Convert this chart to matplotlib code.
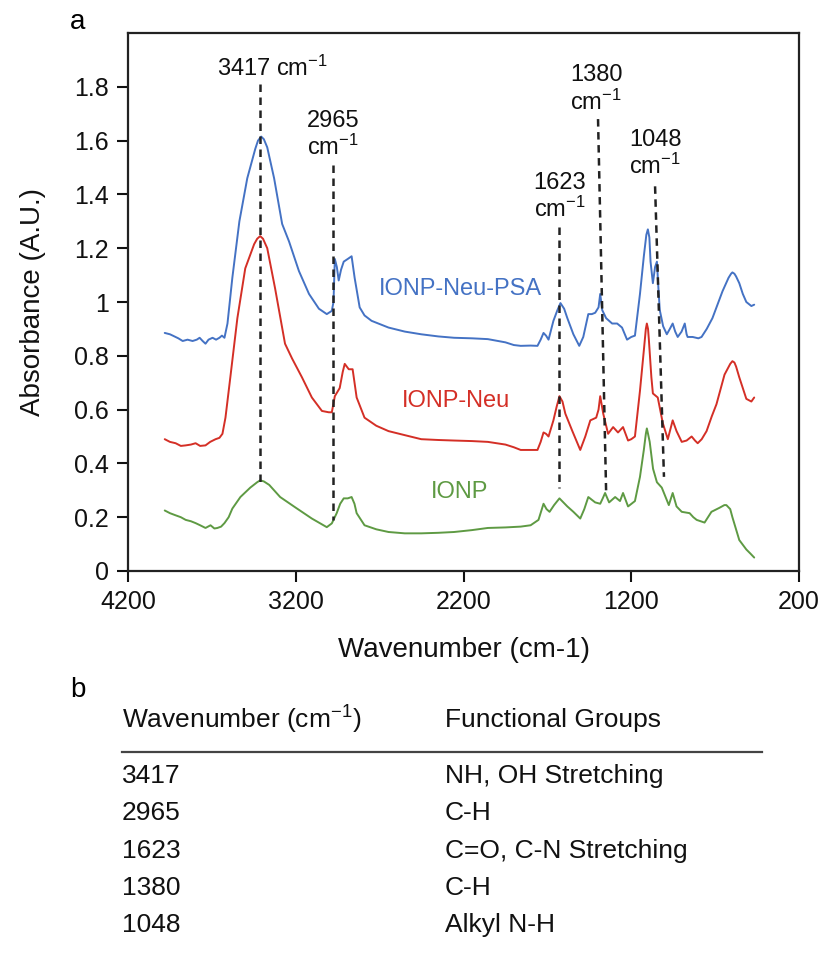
import matplotlib
matplotlib.use("Agg")
import matplotlib.pyplot as plt
import numpy as np

plt.rcParams['font.family'] = ['Liberation Sans', 'DejaVu Sans']
plt.rcParams['mathtext.fontset'] = 'custom'
plt.rcParams['mathtext.rm'] = 'Liberation Sans'
plt.rcParams['mathtext.it'] = 'Liberation Sans'

# ---------------- data ----------------
psa_wn = [3981, 3950, 3933, 3900, 3874, 3845, 3815, 3790, 3773, 3755, 3738, 3720, 3696, 3675, 3655, 3640,
          3625, 3607, 3578, 3536, 3489, 3441, 3425, 3406, 3390, 3370, 3329, 3281, 3240, 3181, 3121, 3062, 3015, 2985,
          2975, 2967, 2955, 2944, 2930, 2914, 2890, 2867, 2849, 2819, 2790, 2748, 2647, 2550, 2452, 2350,
          2256, 2150, 2055, 1950, 1900, 1859, 1800, 1759, 1740, 1723, 1708, 1693, 1664, 1640, 1622, 1600,
          1581, 1545, 1510, 1486, 1456, 1435, 1415, 1395, 1385, 1373, 1350, 1314, 1284, 1255, 1225, 1200,
          1178, 1148, 1125, 1110, 1101, 1092, 1085, 1071, 1058, 1047, 1038, 1030, 1010, 988, 970, 953, 938, 923, 900,
          881, 870, 864, 834, 800, 781, 750, 716, 656, 620, 605, 597, 585, 575, 556, 535, 514, 484, 467]
psa_abs = [0.885, 0.88, 0.875, 0.865, 0.855, 0.86, 0.855, 0.86, 0.867, 0.855, 0.845, 0.86, 0.867, 0.86, 0.867, 0.875,
           0.867, 0.92, 1.09, 1.30, 1.46, 1.57, 1.60, 1.615, 1.605, 1.575, 1.46, 1.29, 1.225, 1.115, 1.03, 0.975, 0.955, 0.967,
           1.00, 1.16, 1.13, 1.08, 1.12, 1.15, 1.16, 1.17, 1.09, 0.98, 0.95, 0.93, 0.905, 0.89, 0.88, 0.872,
           0.867, 0.865, 0.862, 0.85, 0.84, 0.837, 0.838, 0.837, 0.86, 0.885, 0.875, 0.86, 0.93, 0.97, 0.996, 0.975,
           0.94, 0.88, 0.837, 0.87, 0.955, 0.955, 0.96, 0.98, 1.03, 0.97, 0.94, 0.92, 0.92, 0.905, 0.86, 0.87,
           0.875, 1.03, 1.17, 1.25, 1.27, 1.24, 1.15, 1.07, 1.13, 1.15, 1.05, 0.97, 0.91, 0.88, 0.90, 0.92, 0.89, 0.87, 0.89,
           0.92, 0.88, 0.87, 0.87, 0.865, 0.87, 0.90, 0.94, 1.04, 1.09, 1.105, 1.11, 1.105, 1.095, 1.07, 1.03, 1.00, 0.985, 0.99]

neu_wn = [3981, 3950, 3916, 3885, 3856, 3825, 3797, 3770, 3738, 3710, 3678, 3655, 3637, 3619, 3590, 3548,
          3501, 3448, 3430, 3412, 3395, 3370, 3323, 3264, 3222, 3163, 3104, 3044, 3003, 2985, 2967, 2938, 2920, 2908,
          2884, 2861, 2837, 2790, 2720, 2647, 2550, 2452, 2350, 2256, 2150, 2055, 1950, 1900, 1859, 1800,
          1759, 1740, 1723, 1708, 1693, 1664, 1645, 1628, 1610, 1593, 1551, 1504, 1474, 1444, 1409, 1395,
          1385, 1367, 1338, 1308, 1279, 1249, 1219, 1200, 1178, 1148, 1125, 1113, 1107, 1100, 1095, 1080, 1071, 1042,
          1012, 982, 953, 930, 899, 870, 840, 820, 804, 780, 751, 720, 692, 644, 610, 597, 585, 575, 556, 514, 484, 467]
neu_abs = [0.49, 0.48, 0.475, 0.465, 0.467, 0.47, 0.475, 0.465, 0.467, 0.48, 0.49, 0.495, 0.51, 0.57, 0.72, 0.94,
           1.125, 1.215, 1.235, 1.245, 1.235, 1.20, 1.05, 0.845, 0.79, 0.72, 0.645, 0.595, 0.59, 0.59, 0.65, 0.68, 0.74, 0.77,
           0.75, 0.75, 0.645, 0.57, 0.54, 0.52, 0.505, 0.49, 0.487, 0.485, 0.483, 0.48, 0.47, 0.46, 0.45, 0.45,
           0.45, 0.48, 0.515, 0.51, 0.50, 0.56, 0.61, 0.65, 0.63, 0.585, 0.52, 0.45, 0.50, 0.56, 0.57, 0.60,
           0.65, 0.585, 0.51, 0.535, 0.515, 0.535, 0.485, 0.49, 0.50, 0.67, 0.82, 0.90, 0.92, 0.90, 0.86, 0.72, 0.66, 0.645,
           0.55, 0.49, 0.56, 0.52, 0.48, 0.485, 0.50, 0.485, 0.475, 0.49, 0.52, 0.575, 0.62, 0.73, 0.77, 0.78, 0.775, 0.76, 0.72, 0.64, 0.63, 0.645]

ionp_wn = [3981, 3950, 3916, 3885, 3856, 3825, 3797, 3770, 3738, 3708, 3685, 3667, 3645, 3625, 3600, 3578,
           3530, 3471, 3430, 3412, 3390, 3358, 3293, 3204, 3104, 3015, 2985, 2956, 2935, 2914, 2890, 2867, 2850, 2837,
           2790, 2720, 2647, 2550, 2452, 2350, 2256, 2150, 2055, 1950, 1859, 1800, 1753, 1723, 1705, 1687,
           1660, 1628, 1581, 1545, 1504, 1480, 1456, 1415, 1385, 1370, 1356, 1332, 1296, 1267, 1249, 1219,
           1178, 1148, 1125, 1113, 1107, 1100, 1090, 1070, 1047, 1018, 976, 953, 930, 899, 852, 830, 810, 763, 722, 674,
           645, 633, 610, 597, 556, 514, 490, 467]
ionp_abs = [0.225, 0.215, 0.207, 0.20, 0.19, 0.185, 0.178, 0.17, 0.16, 0.17, 0.158, 0.16, 0.165, 0.178, 0.20, 0.232,
            0.275, 0.31, 0.33, 0.337, 0.333, 0.32, 0.275, 0.237, 0.195, 0.163, 0.177, 0.215, 0.25, 0.27, 0.27, 0.275, 0.25, 0.215,
            0.17, 0.155, 0.145, 0.14, 0.14, 0.142, 0.145, 0.152, 0.16, 0.162, 0.165, 0.17, 0.19, 0.25, 0.23, 0.22,
            0.245, 0.27, 0.24, 0.22, 0.195, 0.23, 0.275, 0.255, 0.25, 0.27, 0.29, 0.255, 0.275, 0.26, 0.29, 0.24,
            0.26, 0.35, 0.45, 0.51, 0.53, 0.51, 0.48, 0.38, 0.33, 0.31, 0.245, 0.29, 0.24, 0.22, 0.215, 0.20, 0.19, 0.18, 0.22, 0.235,
            0.245, 0.245, 0.23, 0.20, 0.115, 0.08, 0.065, 0.05]

series_names = ['IONP-Neu-PSA', 'IONP-Neu', 'IONP']
series_colors = ['#4472C4', '#D42F26', '#5E9A43']

# peak annotations
peak_labels = ['3417 cm$^{-1}$', '2965\ncm$^{-1}$', '1623\ncm$^{-1}$', '1380\ncm$^{-1}$', '1048\ncm$^{-1}$']
peak_line_top_wn = [3413, 2978, 1631, 1398, 1058]
peak_line_bot_wn = [3413, 2978, 1631, 1350, 1005]
peak_line_top_abs = [1.81, 1.51, 1.28, 1.68, 1.43]
peak_line_bot_abs = [0.33, 0.19, 0.31, 0.30, 0.35]
peak_label_wn = [3336, 2978, 1625, 1410, 1058]
peak_label_abs = [1.867, 1.62, 1.39, 1.79, 1.55]

series_label_wn = [2221, 2245, 2221]
series_label_abs = [1.05, 0.633, 0.293]

table_wavenumbers = ['3417', '2965', '1623', '1380', '1048']
table_groups = ['NH, OH Stretching', 'C-H', 'C=O, C-N Stretching', 'C-H', 'Alkyl N-H']

# ---------------- figure ----------------
W, H = 825, 959
fig = plt.figure(figsize=(W / 100, H / 100), dpi=100)
ax = fig.add_axes([128 / W, 1 - 571 / H, (799 - 128) / W, (571 - 33) / H])

for wn, ab, c in zip([psa_wn, neu_wn, ionp_wn], [psa_abs, neu_abs, ionp_abs], series_colors):
    ax.plot(wn, ab, color=c, lw=1.4, solid_joinstyle='round', solid_capstyle='round')

for xt, xb, yt, yb in zip(peak_line_top_wn, peak_line_bot_wn, peak_line_top_abs, peak_line_bot_abs):
    ax.plot([xt, xb], [yt, yb], color='#222222', lw=1.8, linestyle=(0, (3, 2.2)))

for lab, x, y in zip(peak_labels, peak_label_wn, peak_label_abs):
    ax.text(x, y, lab, ha='center', va='center', fontsize=17, linespacing=1.15, color='#111111')

for name, c, x, y in zip(series_names, series_colors, series_label_wn, series_label_abs):
    ax.text(x, y, name, ha='center', va='center', fontsize=17, color=c)

ax.set_xlim(4200, 200)
ax.set_ylim(0, 2.0)
ax.set_xticks([4200, 3200, 2200, 1200, 200])
ax.set_xticklabels(['4200', '3200', '2200', '1200', '200'])
ax.set_yticks([0, 0.2, 0.4, 0.6, 0.8, 1.0, 1.2, 1.4, 1.6, 1.8])
ax.set_yticklabels(['0', '0.2', '0.4', '0.6', '0.8', '1', '1.2', '1.4', '1.6', '1.8'])
ax.tick_params(direction='out', length=8, width=1.5, labelsize=18, colors='#111111', pad=6)
for sp in ax.spines.values():
    sp.set_linewidth(1.6)
    sp.set_color('#222222')
ax.set_xlabel('Wavenumber (cm-1)', fontsize=20, labelpad=16, color='#111111')
ax.set_ylabel('Absorbance (A.U.)', fontsize=20, labelpad=20, color='#111111')

# panel letters
fig.text(78 / W, 1 - 22 / H, 'a', fontsize=20, ha='center', va='center')
fig.text(78 / W, 1 - 690 / H, 'b', fontsize=20, ha='center', va='center')

# table
col1_x, col2_x = 122 / W, 445 / W
fig.text(col1_x, 1 - 720 / H, 'Wavenumber (cm$^{-1}$)', fontsize=19, ha='left', va='center', color='#111111')
fig.text(col2_x, 1 - 720 / H, 'Functional Groups', fontsize=19, ha='left', va='center', color='#111111')
fig.add_artist(plt.Line2D([122 / W, 762 / W], [1 - 752 / H, 1 - 752 / H], color='#444444', lw=1.6,
                          transform=fig.transFigure))
row_y = [776, 813, 851, 888, 925]
for ry, wn_txt, grp in zip(row_y, table_wavenumbers, table_groups):
    fig.text(col1_x, 1 - ry / H, wn_txt, fontsize=19, ha='left', va='center', color='#111111')
    fig.text(col2_x, 1 - ry / H, grp, fontsize=19, ha='left', va='center', color='#111111')

fig.savefig('out.png', dpi=100)
